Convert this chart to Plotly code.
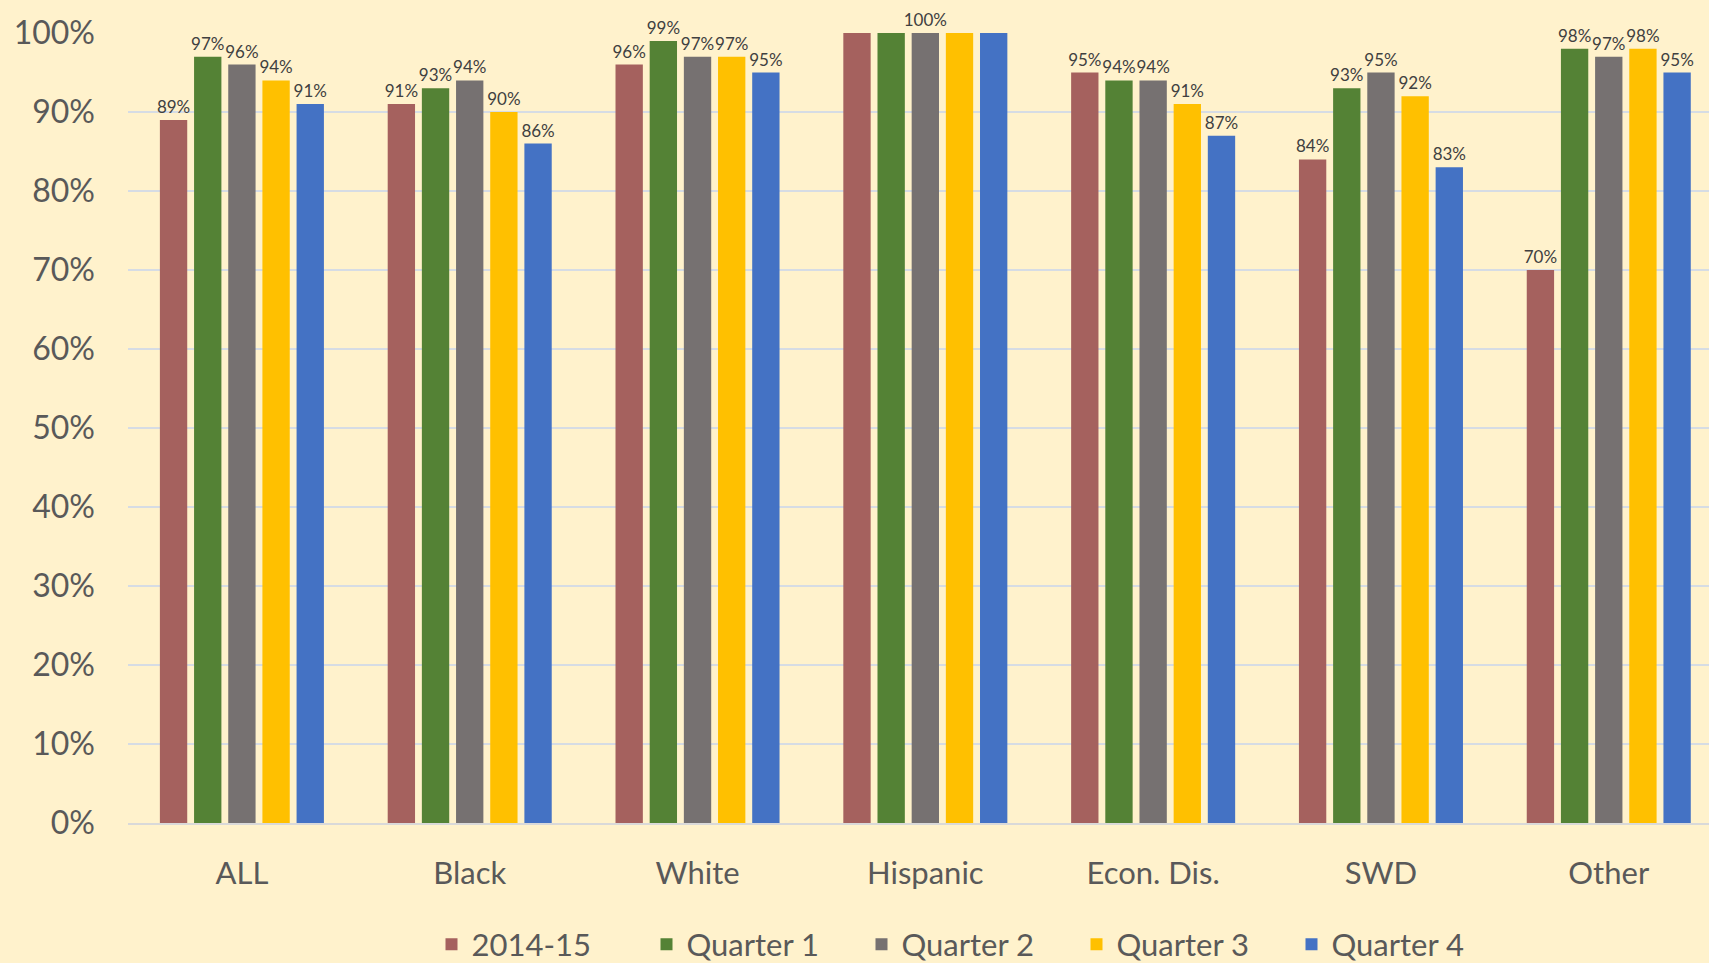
import plotly.graph_objects as go

categories = ["ALL", "Black", "White", "Hispanic", "Econ. Dis.", "SWD", "Other"]
series_names = ["2014-15", "Quarter 1", "Quarter 2", "Quarter 3", "Quarter 4"]
v_2014_15 = [89, 91, 96, 100, 95, 84, 70]
v_q1 = [97, 93, 99, 100, 94, 93, 98]
v_q2 = [96, 94, 97, 100, 94, 95, 97]
v_q3 = [94, 90, 97, 100, 91, 92, 98]
v_q4 = [91, 86, 95, 100, 87, 83, 95]
# only one label shown for the Hispanic group in the original (the others overlap)
hispanic_label_series = "Quarter 2"

series_values = [v_2014_15, v_q1, v_q2, v_q3, v_q4]
colors = ["#A5615E", "#548235", "#767171", "#FFC000", "#4472C4"]

FONT = "Lato"
fig = go.Figure()
for name, vals, col in zip(series_names, series_values, colors):
    texts = []
    for cat, v in zip(categories, vals):
        if cat == "Hispanic" and name != hispanic_label_series:
            texts.append("")
        else:
            texts.append(f"{v}%")
    fig.add_trace(go.Bar(
        name=name, x=categories, y=vals, text=texts,
        textposition="outside", constraintext="none", cliponaxis=False,
        textfont=dict(family=FONT, size=17, color="#404040"),
        marker=dict(color=col, line=dict(width=0)),
        hoverinfo="skip",
    ))

fig.update_layout(
    width=1709, height=963,
    paper_bgcolor="#FFF2CC", plot_bgcolor="#FFF2CC",
    barmode="group", bargap=0.25, bargroupgap=0.2,
    margin=dict(l=128, r=0, t=33, b=140),
    font=dict(family=FONT, color="#595959"),
    xaxis=dict(range=[-0.5, 6.44], showgrid=False, ticks="",
               tickfont=dict(family=FONT, size=31, color="#595959"),
               ticklabelstandoff=22, showline=True, linecolor="#D9D9D9", linewidth=2,
               zeroline=False),
    yaxis=dict(range=[0, 100], dtick=10, ticksuffix="%", showgrid=True,
               gridcolor="#D6DCE4", gridwidth=2, zeroline=False,
               tickfont=dict(family=FONT, size=32, color="#595959"),
               ticklabelstandoff=32, ticks=""),
    showlegend=True,
    legend=dict(orientation="h", xref="container", yref="container",
                x=0.567, xanchor="center", y=0.019, yanchor="middle",
                font=dict(family=FONT, size=31, color="#595959"),
                itemwidth=30, entrywidth=170, entrywidthmode="pixels",
                tracegroupgap=0, bgcolor="rgba(0,0,0,0)"),
)

fig.write_html("out.html", config={"displayModeBar": False},
               post_script="document.body.style.margin='0';document.body.style.background='#FFF2CC';")
